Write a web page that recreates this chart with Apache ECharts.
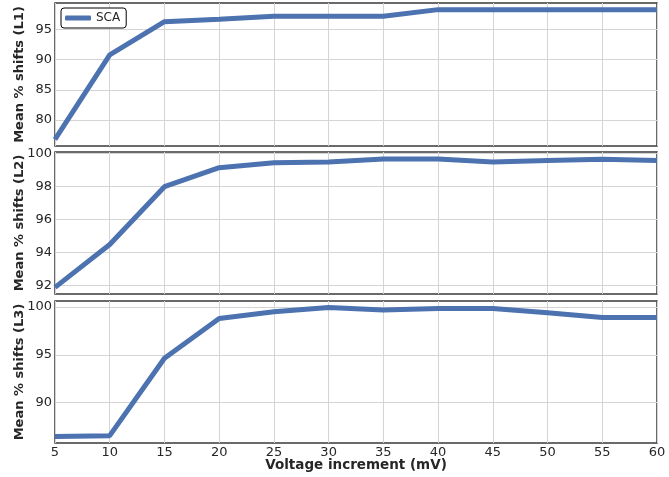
<!DOCTYPE html>
<html><head><meta charset="utf-8">
<script src="https://cdn.jsdelivr.net/npm/echarts@6/dist/echarts.min.js"></script>
<style>html,body{margin:0;padding:0;background:#fff}#c{width:669px;height:477px}</style>
</head><body><div id="c"></div>
<script>
const voltage = [5,10,15,20,25,30,35,40,45,50,55,60];
const l1 = [76.8,90.8,96.3,96.7,97.2,97.2,97.2,98.3,98.3,98.3,98.3,98.3];
const l2 = [91.9,94.5,98.0,99.15,99.45,99.5,99.68,99.68,99.5,99.58,99.66,99.58];
const l3 = [86.45,86.55,94.65,98.8,99.5,99.95,99.7,99.85,99.85,99.4,98.9,98.9];
const xTicks = [5,10,15,20,25,30,35,40,45,50,55,60];
const y1Ticks = [80,85,90,95];
const y2Ticks = [92,94,96,98,100];
const y3Ticks = [90,95,100];
const yNames = ['Mean % shifts (L1)','Mean % shifts (L2)','Mean % shifts (L3)'];
const yRanges = [[75.7,99.4],[91.5,100.1],[85.78,100.63]];
const seriesData = [l1,l2,l3];
const yTicks = [y1Ticks,y2Ticks,y3Ticks];

const grids = [
  {left:55, right:12, top:3, height:143},
  {left:55, right:12, top:152, height:142},
  {left:55, right:12, top:301, height:142}
].map(g => Object.assign(g, {show:true, borderColor:'#3a3a3a', borderWidth:1.5,
  backgroundColor:'transparent', containLabel:false, outerBoundsMode:'none'}));

const font = 'DejaVu Sans';
const xAxes = grids.map((g,i) => ({
  type:'value', gridIndex:i, min:5, max:60, interval:5,
  axisLine:{show:false}, axisTick:{show:false},
  axisLabel:{show:i===2, color:'#262626', fontFamily:font, fontSize:13, margin:3,
    customValues:xTicks},
  splitLine:{show:true, lineStyle:{color:'#d4d4d4', width:1}},
  name: i===2 ? 'Voltage increment (mV)' : '',
  nameLocation:'middle', nameGap:15.5, nameMoveOverlap:false,
  nameTextStyle:{fontFamily:font, fontWeight:'bold', fontSize:13.5, color:'#262626'}
}));
const yAxes = grids.map((g,i) => ({
  type:'value', gridIndex:i, min:yRanges[i][0], max:yRanges[i][1],
  axisLine:{show:false},
  axisTick:{show:false, customValues:yTicks[i]},
  axisLabel:{color:'#262626', fontFamily:font, fontSize:13, margin:3, customValues:yTicks[i]},
  splitLine:{show:true, lineStyle:{color:'#d4d4d4', width:1}},
  name:yNames[i], nameLocation:'middle', nameGap:28.5, nameMoveOverlap:false,
  nameTextStyle:{fontFamily:font, fontWeight:'bold', fontSize:13, color:'#262626'}
}));
const series = seriesData.map((d,i) => ({
  name: i===0 ? 'SCA' : 'SCA'+i,
  type:'line', xAxisIndex:i, yAxisIndex:i,
  data: voltage.map((v,k) => [v, d[k]]),
  symbol:'none', lineStyle:{color:'#4c72b0', width:5}, itemStyle:{color:'#4c72b0'},
  animation:false
}));
const chart = echarts.init(document.getElementById('c'), null, {renderer:'canvas'});
chart.setOption({
  animation:false,
  grid:grids, xAxis:xAxes, yAxis:yAxes, series:series,
  legend:{data:[{name:'SCA', icon:'roundRect'}], left:61, top:8, orient:'vertical',
    itemWidth:26, itemHeight:5, itemGap:4,
    borderColor:'#000', borderWidth:1, borderRadius:3, padding:[4,6,4,4],
    backgroundColor:'#fff',
    textStyle:{fontFamily:font, fontSize:12, color:'#262626'}}
});
</script></body></html>
